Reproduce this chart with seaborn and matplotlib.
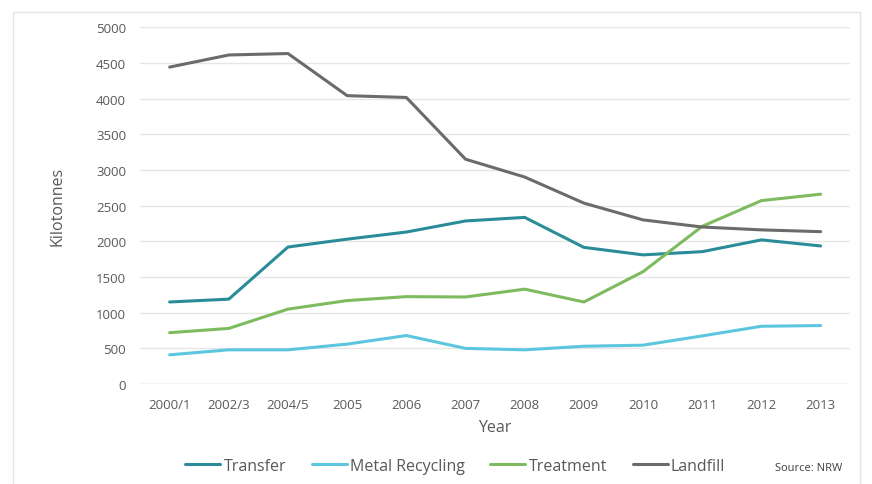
import pandas as pd
import numpy as np
import matplotlib.pyplot as plt
import seaborn as sns
from matplotlib.patches import Rectangle
from matplotlib.lines import Line2D

# ------------------------------------------------------------
# DATA  (kilotonnes)
# ------------------------------------------------------------
years = ['2000/1', '2002/3', '2004/5', '2005', '2006', '2007',
         '2008', '2009', '2010', '2011', '2012', '2013']

transfer        = [1150, 1190, 1920, 2030, 2130, 2285, 2335, 1915, 1810, 1855, 2020, 1935]
metal_recycling = [410, 480, 480, 560, 680, 500, 480, 530, 545, 675, 810, 820]
treatment       = [720, 780, 1050, 1170, 1225, 1220, 1330, 1150, 1575, 2210, 2570, 2660]
landfill        = [4440, 4610, 4630, 4040, 4015, 3150, 2900, 2535, 2300, 2200, 2160, 2135]

series_names = ['Transfer', 'Metal Recycling', 'Treatment', 'Landfill']
palette = {
    'Transfer':        '#2a8c99',
    'Metal Recycling': '#5cc6df',
    'Treatment':       '#7dbb5e',
    'Landfill':        '#6b6b6b',
}

df = pd.DataFrame({
    'Year': years * 4,
    'Kilotonnes': transfer + metal_recycling + treatment + landfill,
    'Series': np.repeat(series_names, len(years)),
})

# ------------------------------------------------------------
# PLOT
# ------------------------------------------------------------
sns.set_style('white')
plt.rcParams['font.family'] = ['Open Sans', 'DejaVu Sans']

fig = plt.figure(figsize=(8.72, 4.85), dpi=100)
ax = fig.add_axes([0.1606, 0.206, 0.8144, 0.736])

sns.lineplot(data=df, x='Year', y='Kilotonnes', hue='Series',
             palette=palette, linewidth=2.2, sort=False, legend=False, ax=ax)

ax.set_xlim(-0.5, len(years) - 0.5)
ax.set_ylim(0, 5000)
ax.set_yticks(range(0, 5001, 500))
ax.yaxis.grid(True, color='#e6e6e6', linewidth=1)
ax.xaxis.grid(False)
for s in ax.spines.values():
    s.set_visible(False)
ax.axhline(0, color='#dddddd', linewidth=1)

ax.tick_params(axis='both', length=0, labelsize=9.5, labelcolor='#595959')
ax.tick_params(axis='x', pad=10)
ax.tick_params(axis='y', pad=10)
ax.set_xlabel('Year', fontsize=11.5, color='#595959', labelpad=6)
ax.set_ylabel('Kilotonnes', fontsize=11.5, color='#595959', labelpad=22)

handles = [Line2D([0], [0], color=palette[n], linewidth=2.2) for n in series_names]
fig.legend(handles, series_names, loc='center', bbox_to_anchor=(0.522, 0.037),
           ncol=4, frameon=False, fontsize=11.5, handlelength=2.2,
           handletextpad=0.2, columnspacing=1.6, labelcolor='#595959')

fig.text(0.927, 0.035, 'Source: NRW', fontsize=8, color='#404040', ha='center', va='center')

# light frame around the chart area
fig.patches.append(Rectangle((13 / 872, -0.01), 847 / 872, 1 - 13 / 485 + 0.01,
                             transform=fig.transFigure, fill=False,
                             edgecolor='#e3e3e3', linewidth=1))

fig.savefig('out.png', dpi=100)
